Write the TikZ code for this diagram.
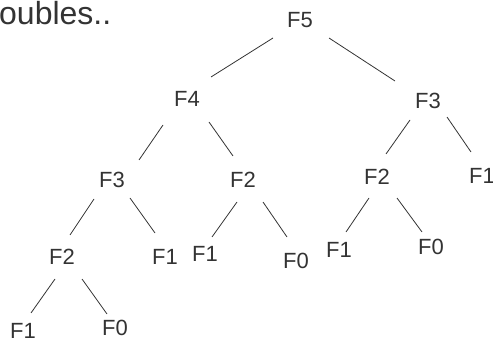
\documentclass[tikz,border=0pt]{standalone}
\usepackage{fontspec}
\setmainfont{Liberation Sans}
\definecolor{ink}{HTML}{333333}
\begin{document}
\begin{tikzpicture}[x=1pt,y=-1pt,
  lbl/.style={inner sep=0pt,text=ink,font=\fontsize{22}{26}\selectfont},
  edge/.style={draw=ink,line width=0.8pt}]
\useasboundingbox (0,0) rectangle (493,339);
\node[inner sep=0pt,anchor=base west,text=ink,font=\fontsize{32}{38}\selectfont] (title) at (-1,25) {oubles..};
\node[lbl] (f5) at (300,20) {F5};
\node[lbl] (f4) at (187,98.5) {F4};
\node[lbl] (f3r) at (428,100.5) {F3};
\node[lbl] (f3l) at (112,180) {F3};
\node[lbl] (f2m) at (243,180) {F2};
\node[lbl] (f2r) at (377,176.5) {F2};
\node[lbl] (f1r) at (482,176) {F1};
\node[lbl] (f2b) at (62,257) {F2};
\node[lbl] (f1a) at (165,257) {F1};
\node[lbl] (f1b) at (205,254) {F1};
\node[lbl] (f0m) at (296,261) {F0};
\node[lbl] (f1c) at (339,250) {F1};
\node[lbl] (f0r) at (431,247) {F0};
\node[lbl] (f1d) at (23,331) {F1};
\node[lbl] (f0d) at (115,328) {F0};
\draw[edge] ([shift={(-27,18)}]f5.center) -- ([shift={(24,-21.5)}]f4.center);
\draw[edge] ([shift={(29,18)}]f5.center) -- ([shift={(-33,-19.5)}]f3r.center);
\draw[edge] ([shift={(-24,26.5)}]f4.center) -- ([shift={(27,-20)}]f3l.center);
\draw[edge] ([shift={(22,23.5)}]f4.center) -- ([shift={(-10,-24)}]f2m.center);
\draw[edge] ([shift={(-18,19.5)}]f3r.center) -- ([shift={(9,-22.5)}]f2r.center);
\draw[edge] ([shift={(19,16.5)}]f3r.center) -- ([shift={(-11,-24)}]f1r.center);
\draw[edge] ([shift={(-18,19)}]f3l.center) -- ([shift={(8,-22)}]f2b.center);
\draw[edge] ([shift={(18,18)}]f3l.center) -- ([shift={(-10,-24)}]f1a.center);
\draw[edge] ([shift={(-6,22)}]f2m.center) -- ([shift={(7,-17)}]f1b.center);
\draw[edge] ([shift={(20,22)}]f2m.center) -- ([shift={(-9,-24)}]f0m.center);
\draw[edge] ([shift={(-8,21.5)}]f2r.center) -- ([shift={(7,-18)}]f1c.center);
\draw[edge] ([shift={(20,21.5)}]f2r.center) -- ([shift={(-9,-15)}]f0r.center);
\draw[edge] ([shift={(-7,22)}]f2b.center) -- ([shift={(8,-18)}]f1d.center);
\draw[edge] ([shift={(20,22)}]f2b.center) -- ([shift={(-8,-14)}]f0d.center);
\end{tikzpicture}
\end{document}
